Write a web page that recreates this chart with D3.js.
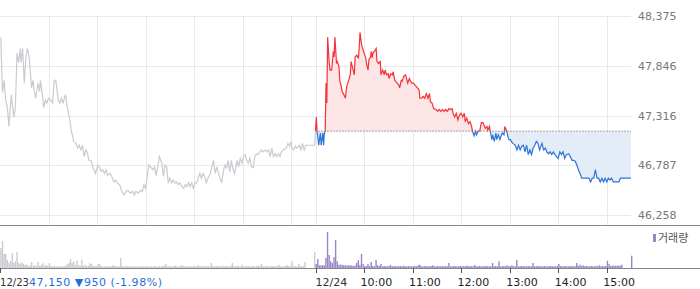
<!DOCTYPE html>
<html>
<head>
<meta charset="utf-8">
<script src="https://cdn.jsdelivr.net/npm/d3@7"></script>
<style>
  body { margin: 0; background: #fff; }
  text { font-family: "DejaVu Sans", sans-serif; }
</style>
</head>
<body>
<div id="chart"></div>
<script>
//*********************** DATA ***********************
var prevClose = 47150;
var yTicks = [46258, 46787, 47316, 47846, 48375];
var dayLabels = ["12/23", "12/24"];
var hourLabels = ["10:00", "11:00", "12:00", "13:00", "14:00", "15:00"];
var summaryText = "47,150 \u25BC950 (-1.98%)";

// 12/23 minute prices [time, price]
var prevDay = [["09:01",48150],["09:03",47560],["09:05",47690],["09:07",47480],["09:09",47410],["09:11",47200],["09:14",47540],["09:17",47300],["09:19",47400],["09:21",47980],["09:23",47880],["09:25",48030],["09:26",47880],["09:28",48030],["09:30",47660],["09:32",47940],["09:34",48030],["09:36",47940],["09:39",47610],["09:41",47690],["09:42",47590],["09:44",47500],["09:47",47660],["09:49",47570],["09:50",47690],["09:52",47570],["09:54",47400],["09:56",47480],["09:58",47450],["10:00",47500],["10:03",47480],["10:05",47450],["10:07",47690],["10:09",47690],["10:12",47480],["10:14",47450],["10:16",47500],["10:18",47450],["10:21",47540],["10:23",47410],["10:26",47290],["10:28",47160],["10:30",47090],["10:31",47040],["10:34",47020],["10:36",46970],["10:38",47000],["10:40",46950],["10:42",47000],["10:44",46880],["10:46",46950],["10:48",46920],["10:50",46840],["10:53",46830],["10:55",46760],["10:58",46700],["11:01",46790],["11:03",46760],["11:05",46720],["11:07",46740],["11:09",46700],["11:11",46740],["11:13",46680],["11:16",46700],["11:18",46670],["11:21",46610],["11:23",46630],["11:25",46600],["11:28",46580],["11:30",46520],["11:33",46470],["11:36",46510],["11:38",46520],["11:41",46490],["11:44",46510],["11:46",46470],["11:48",46510],["11:51",46490],["11:54",46520],["11:56",46510],["11:58",46580],["12:00",46540],["12:02",46670],["12:04",46790],["12:07",46760],["12:09",46740],["12:11",46770],["12:13",46680],["12:15",46770],["12:17",46880],["12:20",46810],["12:22",46670],["12:24",46790],["12:26",46770],["12:28",46600],["12:30",46650],["12:32",46600],["12:34",46630],["12:36",46600],["12:38",46610],["12:40",46580],["12:42",46600],["12:45",46560],["12:47",46540],["12:49",46580],["12:51",46560],["12:53",46600],["12:55",46560],["12:57",46600],["12:59",46540],["13:01",46600],["13:03",46600],["13:05",46650],["13:07",46700],["13:09",46650],["13:11",46700],["13:13",46670],["13:15",46600],["13:17",46650],["13:20",46700],["13:22",46770],["13:24",46840],["13:26",46700],["13:28",46770],["13:30",46700],["13:32",46650],["13:34",46600],["13:36",46720],["13:38",46790],["13:40",46760],["13:42",46840],["13:44",46720],["13:46",46840],["13:48",46740],["13:50",46700],["13:53",46840],["13:55",46770],["13:57",46860],["13:59",46810],["14:01",46880],["14:03",46900],["14:05",46840],["14:07",46810],["14:09",46860],["14:11",46770],["14:13",46760],["14:15",46880],["14:17",46910],["14:19",46900],["14:21",46930],["14:23",46950],["14:25",46930],["14:28",46950],["14:30",46930],["14:32",46950],["14:34",46880],["14:36",46970],["14:38",46880],["14:40",46910],["14:42",46880],["14:44",46910],["14:46",46880],["14:48",46930],["14:50",46950],["14:54",46970],["14:56",47020],["14:58",46990],["15:00",47040],["15:01",46970],["15:03",46950],["15:05",46990],["15:07",46970],["15:10",47000],["15:12",46950],["15:14",47020],["15:16",46950],["15:18",47000],["15:26",47000],["15:29",47000],["15:30",47150]];

// 12/24 minute prices [time, price]
var today = [["09:00",47150],["09:01",47300],["09:02",47150],["09:04",47000],["09:06",47130],["09:07",47000],["09:09",47130],["09:10",47000],["09:11",47130],["09:12",47150],["09:13",47660],["09:14",47450],["09:15",48150],["09:17",47870],["09:18",47800],["09:20",47800],["09:22",48000],["09:23",47940],["09:24",48150],["09:26",47870],["09:27",47890],["09:29",47840],["09:30",47690],["09:31",47660],["09:33",47570],["09:35",47540],["09:37",47500],["09:38",47590],["09:39",47640],["09:41",47690],["09:43",47750],["09:44",47890],["09:46",47820],["09:48",47750],["09:49",47940],["09:51",47960],["09:52",47940],["09:53",47930],["09:54",48030],["09:55",48200],["09:57",48070],["09:59",48010],["10:00",47980],["10:02",47930],["10:03",47870],["10:05",47800],["10:06",47910],["10:08",47940],["10:09",48000],["10:10",47930],["10:11",47980],["10:13",48000],["10:15",48030],["10:16",47890],["10:18",47870],["10:20",47890],["10:21",47750],["10:23",47800],["10:25",47750],["10:26",47800],["10:28",47750],["10:30",47760],["10:31",47710],["10:33",47760],["10:35",47750],["10:36",47780],["10:38",47690],["10:39",47680],["10:41",47660],["10:43",47640],["10:44",47610],["10:46",47690],["10:47",47680],["10:49",47730],["10:51",47750],["10:52",47730],["10:54",47660],["10:56",47710],["10:57",47690],["10:59",47660],["11:01",47660],["11:03",47640],["11:05",47620],["11:08",47590],["11:09",47500],["11:11",47500],["11:13",47520],["11:15",47500],["11:17",47550],["11:19",47500],["11:21",47550],["11:22",47460],["11:24",47450],["11:26",47390],["11:29",47380],["11:31",47360],["11:33",47380],["11:35",47360],["11:37",47380],["11:39",47360],["11:41",47380],["11:43",47360],["11:45",47390],["11:47",47380],["11:49",47390],["11:50",47340],["11:52",47300],["11:54",47340],["11:56",47270],["11:58",47320],["12:00",47340],["12:02",47300],["12:04",47340],["12:05",47250],["12:07",47290],["12:09",47230],["12:11",47250],["12:13",47200],["12:14",47150],["12:16",47100],["12:18",47150],["12:19",47110],["12:21",47150],["12:23",47150],["12:25",47240],["12:27",47240],["12:29",47200],["12:30",47180],["12:32",47200],["12:33",47160],["12:35",47200],["12:36",47150],["12:38",47060],["12:39",47110],["12:41",47040],["12:43",47130],["12:44",47060],["12:46",47110],["12:48",47060],["12:49",47090],["12:51",47130],["12:53",47110],["12:54",47200],["12:56",47160],["12:58",47090],["12:59",47060],["13:01",47060],["13:02",47040],["13:04",47020],["13:07",47000],["13:09",46950],["13:11",47000],["13:13",46950],["13:15",46990],["13:17",47000],["13:19",46930],["13:21",47000],["13:23",46900],["13:25",46950],["13:27",46900],["13:29",46970],["13:31",47000],["13:33",47040],["13:35",47020],["13:37",46950],["13:40",47020],["13:42",46950],["13:44",46970],["13:46",46930],["13:48",46910],["13:50",46930],["13:52",46900],["13:54",46930],["13:56",46900],["13:58",46880],["14:00",46860],["14:02",46930],["14:04",46900],["14:06",46930],["14:08",46860],["14:10",46900],["14:13",46910],["14:15",46880],["14:17",46840],["14:19",46840],["14:21",46830],["14:23",46790],["14:25",46740],["14:27",46700],["14:29",46650],["14:31",46650],["14:35",46650],["14:38",46650],["14:40",46610],["14:42",46650],["14:44",46650],["14:46",46740],["14:48",46650],["14:50",46650],["14:52",46610],["14:54",46650],["14:56",46610],["14:58",46650],["15:00",46610],["15:02",46650],["15:04",46630],["15:06",46650],["15:08",46610],["15:12",46610],["15:15",46610],["15:17",46650],["15:23",46650],["15:30",46650]];

// volume, thousand shares, one bar per 2 minutes from 09:00 to 15:30
var prevVol = [22,20,27,14,14,8,5,7,15,5,7,16,5,4,6,4,3,3.3,2,2.5,6,2,3,2,6,2,3,4.7,2,3,2,5,
  2,1.5,2,1.5,1.5,2,1.5,1.5,2,2,4,5,9,5,6.7,3,7.3,3,2,8.3,2,3,2,2,4.7,4,2,2,2,4,4,
  2,1.5,1.5,2,1.5,2,1.5,3,2,2,1.5,2,10,
  2,1.5,1.5,2,1.5,1.5,1.5,2,1.5,1.5,1.5,1.5,2,1.5,1.5,2,1.5,1.5,1.5,1.5,2,1.5,1.5,2,1.5,2,2.5,4,
  1.5,2,1.5,1.5,2,2.5,1.5,1.5,2,3,1.5,2,1.5,1.5,2,1.5,2,2,1.5,3,2,1.5,2,1.5,2,2,1.5,5,
  2,1.5,2,2,1.5,2,2.5,1.5,2,2,1.5,2,5,2,1.5,2,2,1.5,3.3,
  2,1.5,2,2,1.5,2,2,1.5,2,2.5,2,4,2,1.5,2,2,1.5,2,2,1.5,2,2,3,2,1.5,2,2,3,2,2,7.3,
  2,2,1.5,4.3,2,1.5,2,6,0,0,0,0,0,16];
var todayVol = [4,9,2.7,2.7,2.7,2.7,10,36,13,6.7,5,10.7,28,6.7,3.3,3.3,3.3,
  2.7,2.7,2.5,2.7,2.7,2.5,2,2.5,5,8,3,14,4,2,2,4,2,6,2,1.7,8,2.7,2,4,
  1.7,2,1.7,1.7,2,3,1.7,1.7,2,1.7,1.7,2,1.7,2.3,1.7,1.7,2,1.7,1.7,1.7,2,1.7,2.7,3.3,
  1.7,1.7,2,1.7,1.7,1.7,2,2.7,1.7,1.7,2,1.7,1.7,1.7,2,1.7,1.7,5,
  1.7,1.7,2,1.7,1.7,1.7,2,1.7,1.7,1.7,2.3,1.7,2,1.7,1.7,3,
  1.7,1.7,2,1.7,1.7,1.7,2,1.7,1.7,1.7,5,1.7,2,1.7,6.7,1.7,1.7,2,1.7,2.7,1.7,2,2.7,1.7,1.7,8,
  1.7,1.7,2,1.7,1.7,1.7,2,1.7,1.7,5,
  1.7,1.7,2,1.7,1.7,1.7,2,1.7,1.7,1.7,2,1.7,1.7,1.7,2,4,2,
  1.7,1.7,2,1.7,1.7,1.7,2,1.7,1.7,5,2,3.3,2,2.7,1.7,2,1.7,1.7,2,1.7,1.7,2,1.7,2.7,
  1.7,2,1.7,2,7.3,4,2,2.3,2.3,2.3,2.3,2.3,2.3,3.3,0,0,0,0,0,12.3];

//*********************** LAYOUT ***********************
var width = 700,
    height = 289,
    plotRight = 631,
    priceTop = 16,
    priceBottom = 215,
    panelLine = 225,
    volBase = 268,
    sessionMin = 390;

function toMin(day, t) {
  var p = t.split(":");
  return day * sessionMin + (+p[0] - 9) * 60 + (+p[1]);
}

var xScale = d3.scaleLinear().domain([0, 2 * sessionMin]).range([0, plotRight]),
    yScale = d3.scaleLinear().domain([yTicks[0], yTicks[yTicks.length - 1]]).range([priceBottom, priceTop]),
    vScale = d3.scaleLinear().domain([0, 40]).range([volBase, volBase - 40]);

var svg = d3.select("#chart").append("svg")
  .attr("width", width)
  .attr("height", height);

//*********************** GRID ***********************
var gridMins = [];
for (var d = 0; d < 2; d++) {
  for (var h = 0; h <= 6; h++) {
    if (d === 0 && h === 0) continue;
    gridMins.push(d * sessionMin + h * 60);
  }
}

svg.append("g").selectAll("line")
  .data(gridMins)
  .enter().append("line")
  .attr("x1", function(m) { return Math.round(xScale(m)) + 0.5; })
  .attr("x2", function(m) { return Math.round(xScale(m)) + 0.5; })
  .attr("y1", priceTop)
  .attr("y2", panelLine)
  .attr("stroke", "#e9e9e9");

svg.append("g").selectAll("line")
  .data(yTicks)
  .enter().append("line")
  .attr("x1", 0)
  .attr("x2", plotRight)
  .attr("y1", function(v) { return Math.round(yScale(v)) + 0.5; })
  .attr("y2", function(v) { return Math.round(yScale(v)) + 0.5; })
  .attr("stroke", "#e9e9e9");

svg.append("g").selectAll("text")
  .data(yTicks)
  .enter().append("text")
  .attr("x", 638)
  .attr("y", function(v) { return yScale(v) + 4; })
  .attr("font-size", 11)
  .attr("fill", "#777")
  .text(function(v) { return d3.format(",")(v); });

//*********************** PRICE LINES ***********************
var p1 = prevDay.map(function(d) { return {m: toMin(0, d[0]), v: d[1]}; });
var p2 = today.map(function(d) { return {m: toMin(1, d[0]), v: d[1]}; });
var baseY = yScale(prevClose);

var line = d3.line()
  .x(function(d) { return xScale(d.m); })
  .y(function(d) { return yScale(d.v); });

var area = d3.area()
  .x(function(d) { return xScale(d.m); })
  .y0(baseY)
  .y1(function(d) { return yScale(d.v); });

var defs = svg.append("defs");
defs.append("clipPath").attr("id", "clipUp")
  .append("rect").attr("x", 0).attr("y", 0).attr("width", width).attr("height", baseY);
defs.append("clipPath").attr("id", "clipDown")
  .append("rect").attr("x", 0).attr("y", baseY).attr("width", width).attr("height", height);

svg.append("path").datum(p2)
  .attr("d", area)
  .attr("fill", "#fde5e6")
  .attr("clip-path", "url(#clipUp)");
svg.append("path").datum(p2)
  .attr("d", area)
  .attr("fill", "#e4ecf8")
  .attr("clip-path", "url(#clipDown)");

// previous close reference line
svg.append("line")
  .attr("x1", xScale(sessionMin))
  .attr("x2", plotRight)
  .attr("y1", baseY)
  .attr("y2", baseY)
  .attr("stroke", "#555")
  .attr("stroke-dasharray", "1,2");

svg.append("path").datum(p1)
  .attr("d", line)
  .attr("fill", "none")
  .attr("stroke", "#c9cbd0")
  .attr("stroke-width", 1.2);

svg.append("path").datum(p2)
  .attr("d", line)
  .attr("fill", "none")
  .attr("stroke", "#f5313a")
  .attr("stroke-width", 1.2)
  .attr("clip-path", "url(#clipUp)");
svg.append("path").datum(p2)
  .attr("d", line)
  .attr("fill", "none")
  .attr("stroke", "#2f74d8")
  .attr("stroke-width", 1.2)
  .attr("clip-path", "url(#clipDown)");

//*********************** VOLUME ***********************
svg.append("g").selectAll("rect")
  .data(prevVol)
  .enter().append("rect")
  .attr("x", function(v, i) { return xScale(2 * i) - 1.4; })
  .attr("y", function(v) { return vScale(v); })
  .attr("width", 1.4)
  .attr("height", function(v) { return volBase - vScale(v); })
  .attr("fill", "#c9cbd0");

svg.append("g").selectAll("rect")
  .data(todayVol)
  .enter().append("rect")
  .attr("x", function(v, i) { return xScale(sessionMin + 2 * i); })
  .attr("y", function(v) { return vScale(v); })
  .attr("width", 1.4)
  .attr("height", function(v) { return volBase - vScale(v); })
  .attr("fill", "#9a86c8");

// legend
svg.append("rect")
  .attr("x", 653).attr("y", 234)
  .attr("width", 3).attr("height", 8)
  .attr("fill", "#9a86c8");
svg.append("text")
  .attr("x", 658).attr("y", 242)
  .attr("font-size", 11)
  .attr("fill", "#555")
  .style("font-family", "'Noto Sans CJK KR', sans-serif")
  .text("거래량");

// panel separators
[panelLine, volBase].forEach(function(y) {
  svg.append("line")
    .attr("x1", 0).attr("x2", width)
    .attr("y1", y + 0.5).attr("y2", y + 0.5)
    .attr("stroke", "#888");
});

//*********************** TIME AXIS ***********************
var tickMins = [0, sessionMin];
hourLabels.forEach(function(t) { tickMins.push(toMin(1, t)); });

svg.append("g").selectAll("line")
  .data(tickMins)
  .enter().append("line")
  .attr("x1", function(m) { return Math.round(xScale(m)) + 0.5; })
  .attr("x2", function(m) { return Math.round(xScale(m)) + 0.5; })
  .attr("y1", volBase)
  .attr("y2", volBase + 5)
  .attr("stroke", "#555");

var first = svg.append("text")
  .attr("x", 0).attr("y", 286)
  .attr("font-size", 11)
  .attr("fill", "#333");
first.append("tspan").attr("textLength", 29).attr("lengthAdjust", "spacingAndGlyphs").text(dayLabels[0]);
first.append("tspan").attr("x", 29).attr("fill", "#1f6fd8")
  .attr("textLength", 133).attr("lengthAdjust", "spacing").text(summaryText);

svg.append("text")
  .attr("x", xScale(sessionMin)).attr("y", 286)
  .attr("font-size", 11)
  .attr("fill", "#333")
  .text(dayLabels[1]);

svg.append("g").selectAll("text")
  .data(hourLabels)
  .enter().append("text")
  .attr("x", function(t) { return xScale(toMin(1, t)) - 3.5; })
  .attr("y", 286)
  .attr("font-size", 11)
  .attr("fill", "#222")
  .text(function(t) { return t; });
</script>
</body>
</html>
